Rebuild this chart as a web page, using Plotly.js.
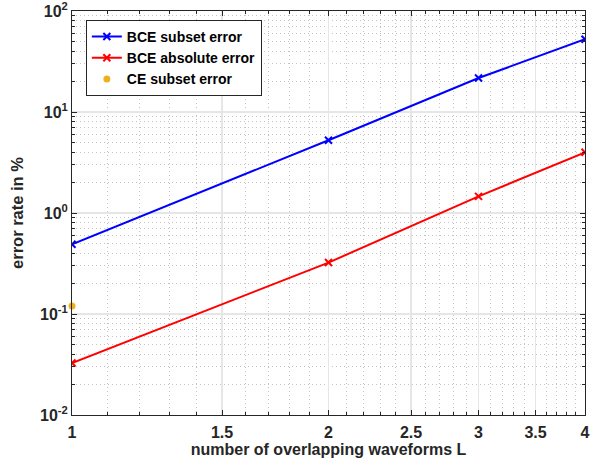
<!DOCTYPE html>
<html>
<head>
<meta charset="utf-8">
<script src="https://cdn.plot.ly/plotly-3.0.1.min.js"></script>
<style>html,body{margin:0;padding:0;background:#fff;}#chart{width:595px;height:465px;}</style>
</head>
<body>
<div id="chart"></div>
<script>
// Data
var L = [1, 2, 3, 4];
var bceSubset = [0.49, 5.25, 21.7, 52.5];
var bceAbsolute = [0.0327, 0.323, 1.46, 3.99];
var ceL = [1];
var ceSubset = [0.12];

var xTickVals = [1, 1.5, 2, 2.5, 3, 3.5, 4];
var xTickText = ['1', '1.5', '2', '2.5', '3', '3.5', '4'];
var yTickVals = [0.01, 0.1, 1, 10, 100];
var yTickText = ['10<sup>-2</sup>', '10<sup>-1</sup>', '10<sup>0</sup>', '10<sup>1</sup>', '10<sup>2</sup>'];

// minor grid positions (axis decoration)
var xMinor = [];
for (var i = 11; i < 40; i++) { if (i % 5 !== 0) xMinor.push(i / 10); }
var yMinor = [];
for (var e = -2; e < 2; e++) { for (var d = 2; d <= 9; d++) yMinor.push(d * Math.pow(10, e)); }

var fontFam = 'Liberation Sans, Arial, sans-serif';

var traces = [
  {x: L, y: bceSubset, name: 'BCE subset error', mode: 'lines+markers', type: 'scatter',
   line: {color: '#0000FF', width: 2}, marker: {symbol: 'x-thin', size: 7, color: '#0000FF', line: {color: '#0000FF', width: 2}}},
  {x: L, y: bceAbsolute, name: 'BCE absolute error', mode: 'lines+markers', type: 'scatter',
   line: {color: '#FF0000', width: 2}, marker: {symbol: 'x-thin', size: 7, color: '#FF0000', line: {color: '#FF0000', width: 2}}},
  {x: ceL, y: ceSubset, name: 'CE subset error', mode: 'markers', type: 'scatter',
   marker: {symbol: 'circle', size: 7, color: '#EDB120'}, cliponaxis: false}
];

var axisCommon = {
  type: 'log', showline: true, linecolor: '#262626', linewidth: 1, mirror: 'ticks',
  ticks: 'inside', ticklen: 5, tickcolor: '#262626', tickwidth: 1,
  showgrid: true, gridcolor: '#e6e6e6', gridwidth: 1.2, zeroline: false,
  tickfont: {family: fontFam, size: 16, color: '#262626', weight: 'bold'},
  tickmode: 'array', ticklabeloverflow: 'allow'
};

var layout = {
  width: 595, height: 465,
  margin: {l: 72, r: 10, t: 11, b: 50},
  paper_bgcolor: '#fff', plot_bgcolor: '#fff',
  showlegend: true,
  legend: {x: 0.027, y: 0.978, xanchor: 'left', yanchor: 'top', bgcolor: '#fff',
    bordercolor: '#262626', borderwidth: 1, tracegroupgap: 0,
    font: {family: fontFam, size: 14, color: '#000', weight: 'bold'}},
  xaxis: Object.assign({}, axisCommon, {
    range: [0, Math.log10(4)], tickvals: xTickVals, ticktext: xTickText,
    ticklabelstandoff: 3,
    minor: {tickmode: 'array', tickvals: xMinor, ticks: 'inside', ticklen: 3, tickcolor: '#262626',
      showgrid: true, gridcolor: '#c4c4c4', griddash: '1px,3px', gridwidth: 1},
    title: {text: 'number of overlapping waveforms L', standoff: 2,
      font: {family: fontFam, size: 16, color: '#262626', weight: 'bold'}}
  }),
  yaxis: Object.assign({}, axisCommon, {
    range: [-2, 2], tickvals: yTickVals, ticktext: yTickText,
    minor: {tickmode: 'array', tickvals: yMinor, ticks: 'inside', ticklen: 3, tickcolor: '#262626',
      showgrid: true, gridcolor: '#c4c4c4', griddash: '1px,3px', gridwidth: 1},
    title: {text: 'error rate in %', standoff: 12,
      font: {family: fontFam, size: 16.5, color: '#262626', weight: 'bold'}}
  })
};

Plotly.newPlot('chart', traces, layout, {displayModeBar: false, staticPlot: true});
</script>
</body>
</html>
